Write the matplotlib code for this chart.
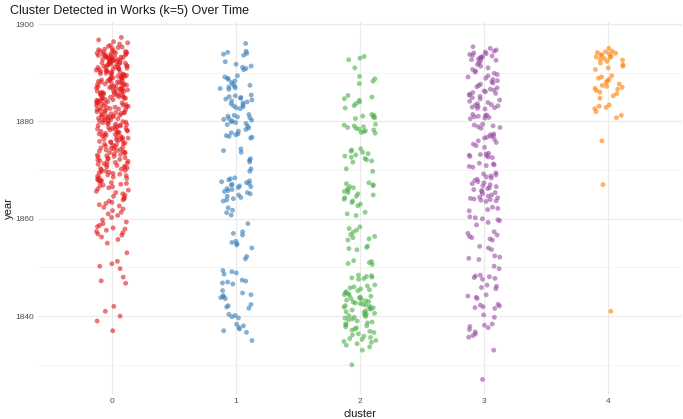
import numpy as np
import pandas as pd
import matplotlib
matplotlib.use("Agg")
import matplotlib.pyplot as plt
import seaborn as sns
from matplotlib.ticker import MultipleLocator

# works per year, one pair of lists per cluster
clusters = ["0", "1", "2", "3", "4"]
colors = ["#E41A1C", "#377EB8", "#4DAF4A", "#984EA3", "#FF7F00"]

years_c0 = [1897, 1896, 1895, 1894, 1893, 1892, 1891, 1890, 1889, 1888, 1887, 1886,
            1885, 1884, 1883, 1882, 1881, 1880, 1879, 1878, 1877, 1876, 1875, 1874,
            1873, 1872, 1871, 1870, 1869, 1868, 1867, 1866, 1865, 1864, 1863, 1862,
            1861, 1860, 1859, 1858, 1857, 1856, 1855, 1853, 1851, 1850, 1848, 1847,
            1842, 1841, 1840, 1839, 1837]
counts_c0 = [2, 4, 7, 13, 15, 14, 13, 12, 12, 12, 12, 13,
             12, 11, 11, 11, 11, 10, 10, 10, 9, 9, 8, 9,
             8, 8, 8, 8, 7, 7, 6, 4, 4, 4, 4, 3,
             3, 2, 3, 4, 4, 2, 1, 1, 2, 2, 1, 2,
             1, 1, 1, 1, 1]

years_c1 = [1896, 1894, 1892, 1891, 1889, 1888, 1887, 1885, 1884, 1883, 1881, 1880,
            1879, 1878, 1877, 1874, 1872, 1870, 1868, 1867, 1866, 1865, 1864, 1862,
            1861, 1859, 1857, 1855, 1854, 1852, 1849, 1847, 1845, 1844, 1842, 1840,
            1838, 1837, 1835]
counts_c1 = [1, 5, 2, 4, 4, 3, 6, 6, 5, 5, 6, 6,
             3, 3, 6, 3, 3, 2, 5, 6, 5, 4, 4, 2,
             2, 1, 3, 4, 1, 2, 4, 5, 2, 5, 4, 4,
             3, 3, 1]

years_c2 = [1893, 1891, 1889, 1888, 1885, 1884, 1883, 1881, 1879, 1878, 1874, 1873,
            1872, 1870, 1867, 1866, 1865, 1864, 1863, 1861, 1858, 1857, 1856, 1854,
            1851, 1848, 1846, 1845, 1844, 1843, 1842, 1841, 1840, 1839, 1838, 1837,
            1836, 1835, 1834, 1833, 1830]
counts_c2 = [3, 1, 2, 2, 3, 3, 2, 6, 6, 6, 4, 4,
             4, 2, 5, 4, 4, 3, 3, 3, 3, 2, 4, 4,
             5, 7, 5, 5, 6, 7, 7, 6, 6, 5, 5, 4,
             4, 5, 3, 1, 1]

years_c3 = [1895, 1894, 1893, 1892, 1891, 1890, 1889, 1888, 1887, 1886, 1885, 1884,
            1883, 1881, 1879, 1877, 1876, 1875, 1873, 1871, 1869, 1868, 1867, 1866,
            1865, 1864, 1862, 1860, 1859, 1857, 1856, 1854, 1852, 1850, 1848, 1846,
            1844, 1842, 1840, 1838, 1837, 1836, 1833, 1827]
counts_c3 = [3, 6, 8, 3, 3, 4, 4, 4, 4, 6, 4, 4,
             8, 8, 6, 6, 3, 3, 8, 6, 5, 4, 5, 5,
             4, 8, 4, 5, 2, 3, 4, 3, 4, 2, 6, 4,
             4, 6, 2, 4, 2, 3, 1, 1]

years_c4 = [1895, 1894, 1893, 1892, 1891, 1889, 1888, 1887, 1886, 1885, 1883, 1882,
            1881, 1876, 1867, 1841]
counts_c4 = [1, 7, 6, 3, 3, 4, 3, 5, 3, 2, 4, 1,
             2, 1, 1, 1]

year_lists = [years_c0, years_c1, years_c2, years_c3, years_c4]
count_lists = [counts_c0, counts_c1, counts_c2, counts_c3, counts_c4]


def spread_rows(years, counts):
    # vertical jitter: works sharing a year are spaced out inside that year
    out = []
    for y, n in zip(years, counts):
        out.extend(y + (k + 0.5) / n - 0.5 for k in range(n))
    return out


df = pd.concat(
    [pd.DataFrame({"cluster": c, "year": spread_rows(y, n)})
     for c, y, n in zip(clusters, year_lists, count_lists)],
    ignore_index=True,
)

plt.rcParams["font.family"] = ["Liberation Sans", "DejaVu Sans"]

W, H = 683, 419
fig = plt.figure(figsize=(W / 100, H / 100), dpi=100)
fig.patch.set_facecolor("white")
ax = fig.add_axes([38 / W, 1 - 394 / H, 644 / W, 372.4 / H])

np.random.seed(7)
sns.stripplot(
    data=df, x="cluster", y="year", hue="cluster",
    order=clusters, hue_order=clusters,
    palette=dict(zip(clusters, colors)),
    jitter=0.13, size=3.5, alpha=0.6, linewidth=0,
    legend=False, ax=ax,
)

ax.set_xlim(-0.6, 4.6)
ax.set_ylim(1824, 1900.5)
ax.yaxis.set_major_locator(MultipleLocator(20))
ax.yaxis.set_minor_locator(MultipleLocator(10))
ax.set_axisbelow(True)
ax.grid(True, which="major", axis="both", color="#ebebeb", linewidth=0.9)
ax.grid(True, which="minor", axis="y", color="#f2f2f2", linewidth=0.6)
ax.tick_params(which="both", length=0, labelsize=6, labelcolor="#4d4d4d", pad=3)
for s in ax.spines.values():
    s.set_visible(False)

ax.set_xlabel("cluster", fontsize=8, color="#1a1a1a", labelpad=3)
ax.set_ylabel("year", fontsize=8, color="#1a1a1a", labelpad=1)

fig.text(10 / W, 1 - 11 / H, "Cluster Detected in Works (k=5) Over Time",
         fontsize=9, color="#1a1a1a", ha="left", va="center")

fig.savefig("out.png", dpi=100)
